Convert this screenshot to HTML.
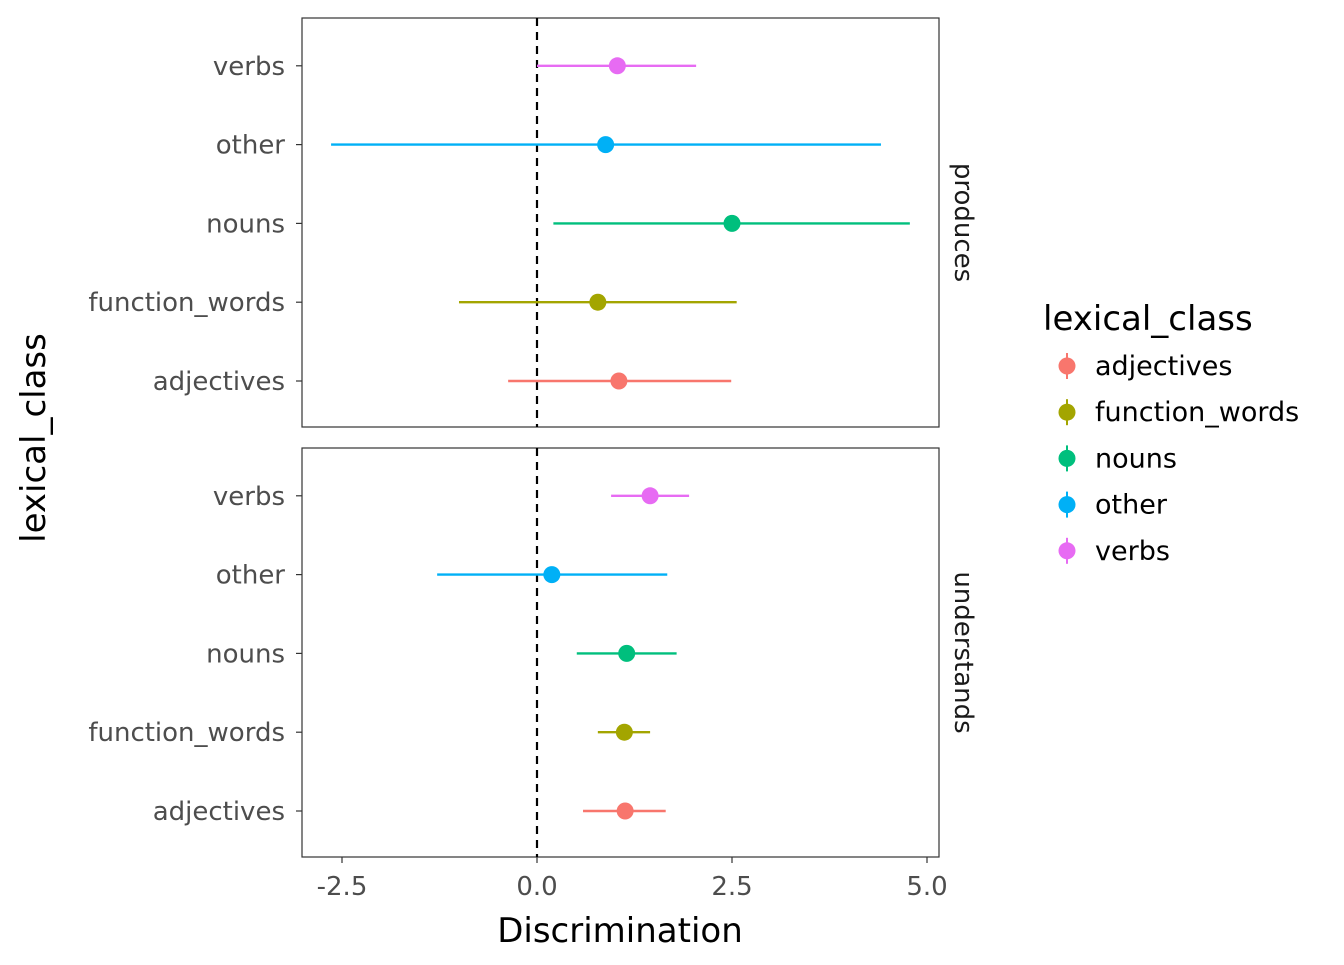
<!DOCTYPE html>
<html><head><meta charset="utf-8"><style>
body{margin:0;background:#fff}
svg text{font-family:"DejaVu Sans","Liberation Sans",sans-serif}
</style></head><body>
<svg id="chart" width="1344" height="960" viewBox="0 0 1344 960" xmlns="http://www.w3.org/2000/svg"></svg>
<script>
const categories = ["adjectives","function_words","nouns","other","verbs"];
const colors = ["#F8766D","#A3A500","#00BF7D","#00B0F6","#E76BF3"];
const panels = ["produces","understands"];
const producesEst = [1.05,0.78,2.5,0.88,1.03];
const producesLo = [-0.37,-1.0,0.21,-2.64,0.0];
const producesHi = [2.49,2.56,4.78,4.41,2.04];
const understandsEst = [1.13,1.12,1.15,0.19,1.45];
const understandsLo = [0.59,0.78,0.51,-1.28,0.95];
const understandsHi = [1.65,1.45,1.79,1.67,1.95];
const xTicks = [-2.5,0,2.5,5];
const xTickLabels = ["-2.5","0.0","2.5","5.0"];

const svg = document.getElementById('chart');
const NS = "http://www.w3.org/2000/svg";
function mk(tag, attrs, parent){const e=document.createElementNS(NS,tag);for(const k in attrs)e.setAttribute(k,attrs[k]);(parent||svg).appendChild(e);return e;}
const x = v => 537 + v*78;
const panelTops = [18,448], panelH = 409, left=302, right=939;
const yRow = (p,i) => panelTops[p] + 363 - i*78.8;
const data = [[producesEst,producesLo,producesHi],[understandsEst,understandsLo,understandsHi]];

panels.forEach((pn,p)=>{
  const g = mk('g',{});
  
  
  mk('rect',{x:left,y:panelTops[p],width:right-left,height:panelH,fill:'#fff',stroke:'#333','stroke-width':1.2},g);
  const z = mk('line',{x1:x(0),x2:x(0),y1:panelTops[p],y2:panelTops[p]+panelH,stroke:'#000','stroke-width':2.2,'stroke-dasharray':'8,6'},g);
  
  
  categories.forEach((c,i)=>{
    const y = yRow(p,i);
    mk('line',{x1:left-6,x2:left,y1:y,y2:y,stroke:'#333','stroke-width':1.2},g);
    const t = mk('text',{x:left-17,y:y+9,'text-anchor':'end','font-size':26,fill:'#4d4d4d'},g);
    t.textContent = c;
    
    
    const [est,lo,hi] = data[p];
    const l = mk('line',{x1:x(lo[i]),x2:x(hi[i]),y1:y,y2:y,stroke:colors[i],'stroke-width':2.4},g);
    
    
    const d = mk('circle',{cx:x(est[i]),cy:y,r:8.5,fill:colors[i]},g);
    
    
  });
  const st = mk('text',{x:0,y:0,'font-size':26,fill:'#1a1a1a','text-anchor':'middle',transform:`translate(955,${panelTops[p]+panelH/2}) rotate(90)`});
  st.textContent = pn;
  
  
});
xTicks.forEach((v,i)=>{
  mk('line',{x1:x(v),x2:x(v),y1:857,y2:863,stroke:'#333','stroke-width':1.2});
  const t = mk('text',{x:x(v),y:895,'text-anchor':'middle','font-size':26,fill:'#4d4d4d'});
  t.textContent = xTickLabels[i];
  
  
});
const xt = mk('text',{x:620,y:942,'text-anchor':'middle','font-size':34,fill:'#000'});
xt.textContent='Discrimination';


const yt = mk('text',{x:0,y:0,'text-anchor':'middle','font-size':34,fill:'#000',transform:'translate(45,438) rotate(-90)'});
yt.textContent='lexical_class';


const lt = mk('text',{x:1043,y:330,'font-size':34,fill:'#000'});
lt.textContent='lexical_class';


categories.forEach((c,i)=>{
  const y = 366 + i*46.2;
  const g = mk('g',{});
  
  
  mk('line',{x1:1067,x2:1067,y1:y-13,y2:y+13,stroke:colors[i],'stroke-width':2},g);
  mk('circle',{cx:1067,cy:y,r:8.5,fill:colors[i]},g);
  const t = mk('text',{x:1095,y:y+9,'font-size':27,fill:'#000'},g);
  t.textContent=c;
});
</script>
</body></html>
